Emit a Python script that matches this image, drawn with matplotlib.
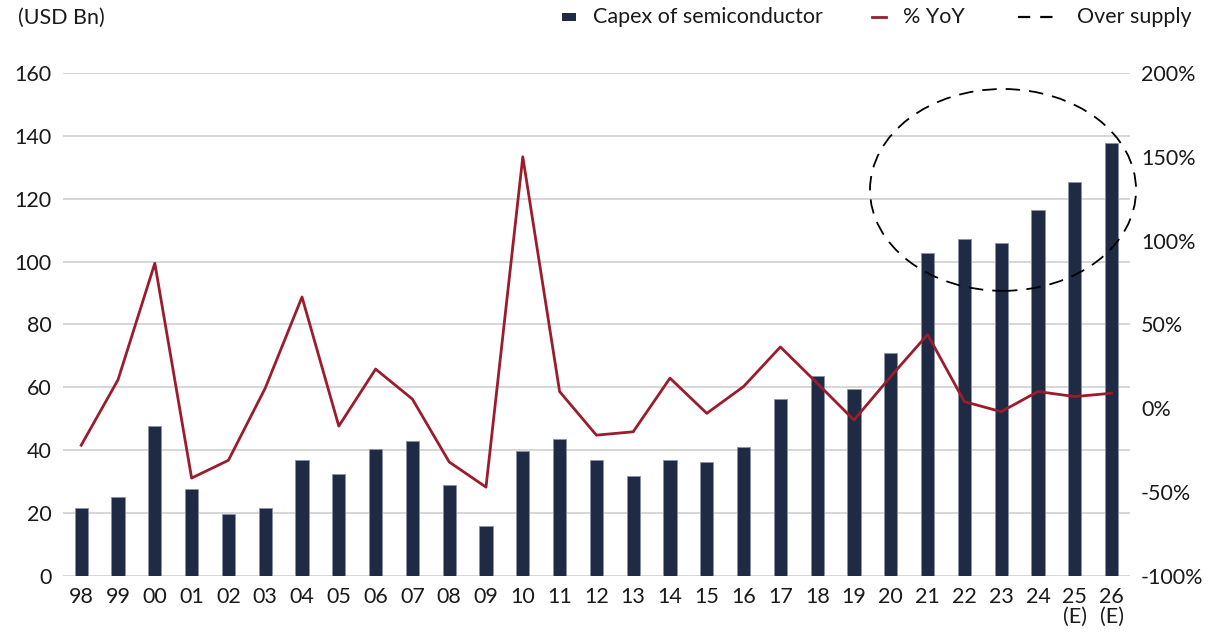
import matplotlib
matplotlib.use("Agg")
import matplotlib.pyplot as plt
from matplotlib.patches import Ellipse, Rectangle
from matplotlib.lines import Line2D

plt.rcParams['font.family'] = ['Lato', 'DejaVu Sans']

years = ["98", "99", "00", "01", "02", "03", "04", "05", "06", "07", "08", "09", "10", "11",
         "12", "13", "14", "15", "16", "17", "18", "19", "20", "21", "22", "23", "24",
         "25\n(E)", "26\n(E)"]
capex = [21.6, 25.0, 47.7, 27.7, 19.7, 21.6, 36.9, 32.4, 40.4, 42.9, 29.0, 15.9, 39.8, 43.6,
         36.9, 31.8, 37.0, 36.3, 41.0, 56.3, 63.6, 59.5, 71.0, 102.7, 107.2, 106.0, 116.4,
         125.3, 137.7]
yoy = [-22, 17, 86.5, -41.6, -31, 12, 66.4, -10.6, 23.4, 5.5, -32, -47, 150, 10,
       -16, -14, 18, -3, 13, 36.6, 15, -7, 19, 44, 4, -2, 10, 7, 9]
legend_labels = ["Capex of semiconductor", "% YoY", "Over supply"]

bar_color = "#1f2a44"
line_color = "#9b1c2c"
text_color = "#1a1a1a"
FS = 15.5

W, H = 1208, 634
fig = plt.figure(figsize=(W / 100, H / 100), dpi=100)
ax = fig.add_axes([0.052, 0.0915, 0.8834, 0.7934])
x = list(range(len(years)))
ax.bar(x, capex, width=0.36, color=bar_color, edgecolor="#8a93a6", linewidth=0.6, zorder=3)
ax.set_ylim(0, 160)
ax.set_yticks(range(0, 161, 20))
ax.set_xlim(-0.5, len(years) - 0.5)
ax.set_xticks(x)
ax.set_xticklabels(years, fontsize=FS, color=text_color, linespacing=1.0)
ax.tick_params(axis='both', length=0, labelsize=FS, colors=text_color)
ax.tick_params(axis='x', pad=8)
ax.tick_params(axis='y', pad=8)
ax.grid(axis='y', color="#d0d0d0", linewidth=1.2, zorder=0)
ax.set_axisbelow(True)
for s in ax.spines.values():
    s.set_visible(False)

ax2 = ax.twinx()
ax2.plot(x, yoy, color=line_color, linewidth=2.0, zorder=4)
ax2.set_ylim(-100, 200)
ax2.set_yticks(range(-100, 201, 50))
ax2.set_yticklabels([f"{v}%" for v in range(-100, 201, 50)])
ax2.tick_params(axis='y', length=0, labelsize=FS, colors=text_color, pad=8)
for s in ax2.spines.values():
    s.set_visible(False)

ell = Ellipse((25.05, 122.8), width=7.23, height=64.2, fill=False, edgecolor="black",
              linestyle=(0, (8, 5)), linewidth=1.3, clip_on=False, zorder=5)
ax.add_patch(ell)

fig.text(18 / W, 1 - 18 / H, "(USD Bn)", fontsize=FS, color=text_color, va='center', ha='left')

# manual legend
ly = 1 - 17 / H
fig.patches.append(Rectangle((562 / W, ly - 4 / H), 14 / W, 8 / H, facecolor=bar_color,
                             edgecolor="none", transform=fig.transFigure, figure=fig))
fig.text(593 / W, ly, legend_labels[0], fontsize=FS, color=text_color, va='center', ha='left')
fig.lines.append(Line2D([872 / W, 886 / W], [ly, ly], color=line_color, linewidth=2,
                        transform=fig.transFigure, figure=fig))
fig.text(903 / W, ly, legend_labels[1], fontsize=FS, color=text_color, va='center', ha='left')
fig.lines.append(Line2D([1018 / W, 1053 / W], [ly, ly], color="black", linewidth=1.6,
                        linestyle=(0, (5.5, 4.5)), transform=fig.transFigure, figure=fig))
fig.text(1077 / W, ly, legend_labels[2], fontsize=FS, color=text_color, va='center', ha='left')

fig.savefig("out.png", dpi=100)
